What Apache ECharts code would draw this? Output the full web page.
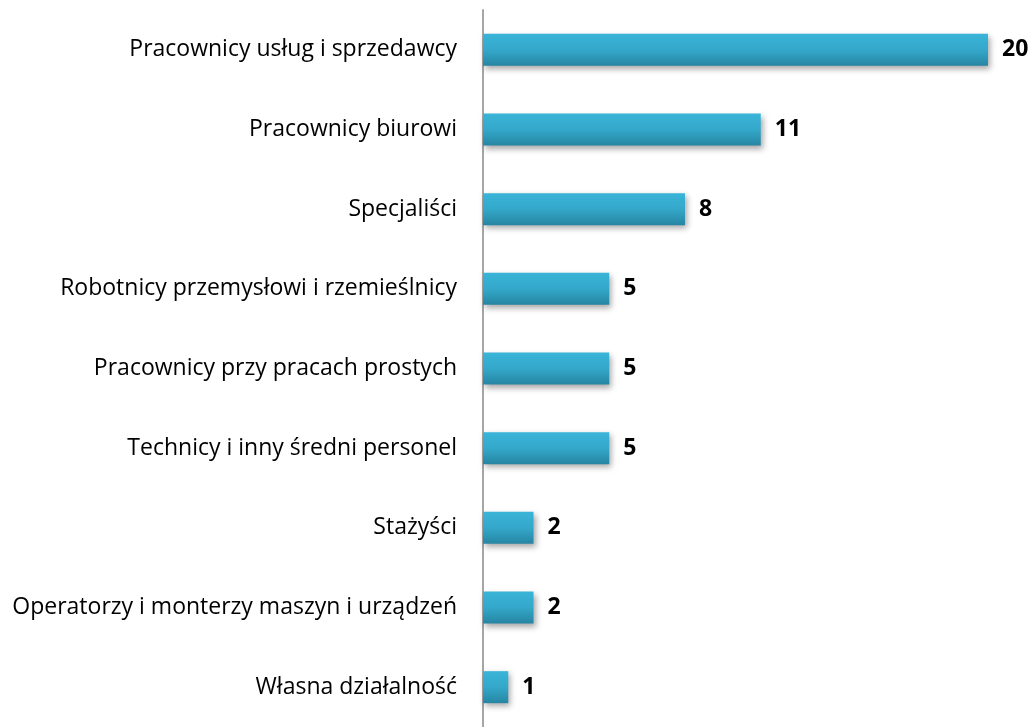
<!DOCTYPE html>
<html>
<head>
<meta charset="utf-8">
<script src="https://cdn.jsdelivr.net/npm/echarts@6/dist/echarts.min.js"></script>
<style>
  html, body { margin: 0; padding: 0; background: #fff; }
  #chart { width: 1036px; height: 727px; }
</style>
</head>
<body>
<div id="chart"></div>
<script>
var categories = [
  "Pracownicy usług i sprzedawcy",
  "Pracownicy biurowi",
  "Specjaliści",
  "Robotnicy przemysłowi i rzemieślnicy",
  "Pracownicy przy pracach prostych",
  "Technicy i inny średni personel",
  "Stażyści",
  "Operatorzy i monterzy maszyn i urządzeń",
  "Własna działalność"
];
var counts = [20, 11, 8, 5, 5, 5, 2, 2, 1];

var chart = echarts.init(document.getElementById("chart"));
chart.setOption({
  backgroundColor: "#ffffff",
  animation: false,
  grid: {
    left: 483,
    top: 10,
    width: 505,
    height: 720
  },
  xAxis: {
    type: "value",
    min: 0,
    max: 20,
    show: false
  },
  yAxis: {
    type: "category",
    inverse: true,
    data: categories,
    axisLine: {
      show: true,
      lineStyle: { color: "#a6a6a6", width: 2 }
    },
    axisTick: { show: false },
    axisLabel: {
      margin: 26,
      color: "#000000",
      fontFamily: "Open Sans",
      fontSize: 23
    }
  },
  series: [
    {
      type: "bar",
      data: counts,
      barWidth: 32,
      itemStyle: {
        color: new echarts.graphic.LinearGradient(0, 0, 0, 1, [
          { offset: 0, color: "#39b4d8" },
          { offset: 0.5, color: "#34a8ca" },
          { offset: 1, color: "#2685a2" }
        ]),
        shadowColor: "rgba(0,0,0,0.35)",
        shadowBlur: 6,
        shadowOffsetX: 2,
        shadowOffsetY: 3
      },
      label: {
        show: true,
        position: "right",
        distance: 14,
        color: "#000000",
        fontFamily: "Open Sans",
        fontWeight: "bold",
        fontSize: 23
      }
    }
  ]
});
</script>
</body>
</html>
